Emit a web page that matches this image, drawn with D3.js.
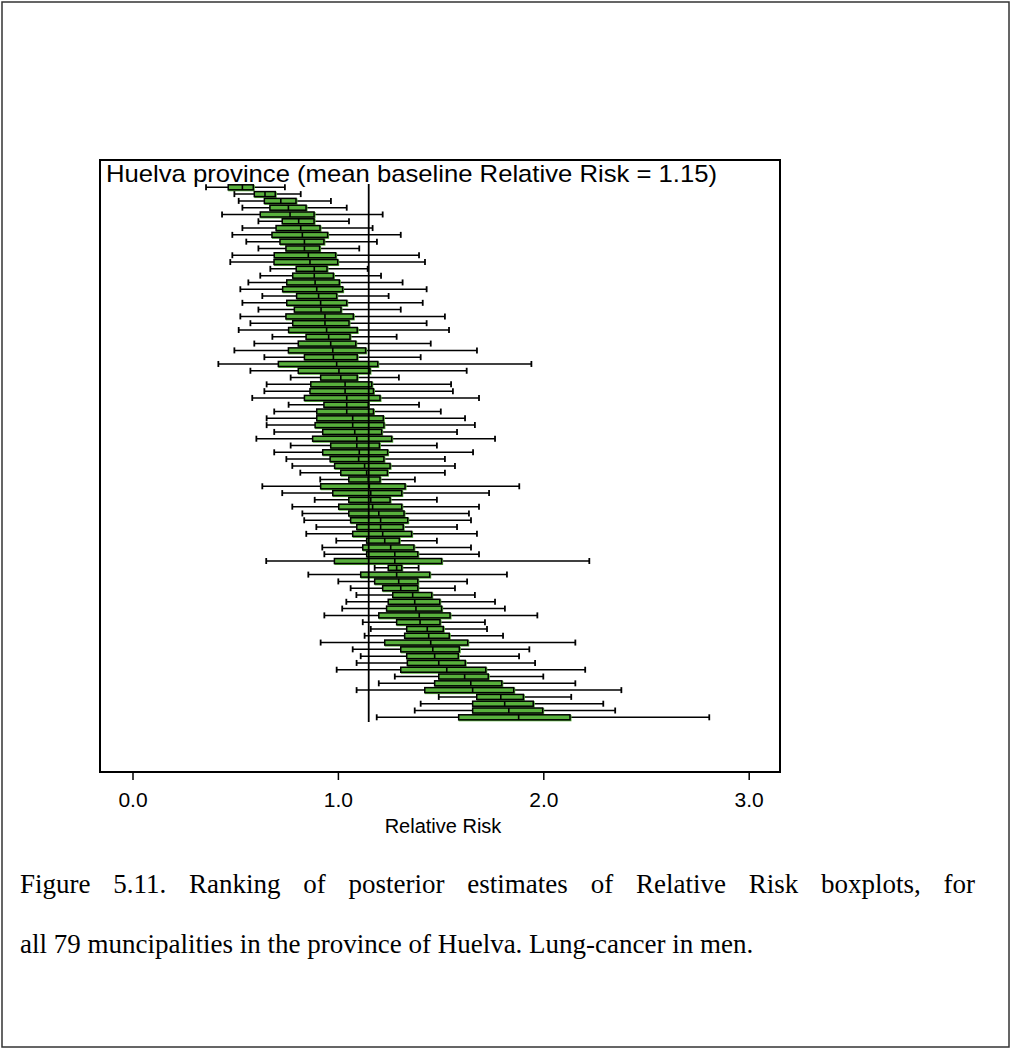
<!DOCTYPE html>
<html>
<head>
<meta charset="utf-8">
<script src="https://cdnjs.cloudflare.com/ajax/libs/d3/7.8.5/d3.min.js"></script>
<style>
  body { margin: 0; background: #fff; }
  svg { display: block; }
</style>
</head>
<body>
<svg id="chart" width="1011" height="1050"></svg>
<script>
// rank of municipality (1 = lowest median relative risk)
var ranks = d3.range(1, 80);

// boxplot summaries
var whiskLo = [0.358,0.496,0.517,0.535,0.436,0.613,0.535,0.486,0.554,0.613,
               0.486,0.476,0.671,0.622,0.564,0.525,0.632,0.535,0.613,0.525,
               0.574,0.517,0.681,0.593,0.496,0.642,0.418,0.574,0.770,0.653,
               0.642,0.583,0.760,0.690,0.653,0.653,0.690,0.603,0.770,0.690,
               0.749,0.778,0.817,0.914,0.632,0.729,0.887,0.778,0.827,0.836,
               0.895,0.846,0.992,0.924,0.934,0.651,1.179,0.856,1.002,1.062,
               1.090,1.041,1.021,0.934,1.121,1.160,1.130,0.916,1.072,1.111,
               1.091,0.994,1.277,1.199,1.091,1.491,1.403,1.374,1.189];
var q1 =      [0.466,0.593,0.642,0.669,0.622,0.729,0.699,0.679,0.718,0.747,
               0.690,0.689,0.797,0.780,0.751,0.731,0.799,0.751,0.788,0.747,
               0.780,0.760,0.845,0.807,0.759,0.837,0.710,0.807,0.916,0.868,
               0.864,0.837,0.932,0.897,0.897,0.889,0.926,0.877,0.965,0.926,
               0.962,0.984,1.014,1.053,0.916,0.975,1.053,1.004,1.053,1.062,
               1.092,1.072,1.140,1.121,1.140,0.983,1.245,1.111,1.179,1.218,
               1.267,1.245,1.237,1.199,1.286,1.335,1.325,1.228,1.306,1.335,
               1.338,1.306,1.491,1.471,1.423,1.676,1.656,1.656,1.588];
var median =  [0.535,0.645,0.722,0.759,0.767,0.809,0.819,0.827,0.837,0.837,
               0.856,0.864,0.885,0.885,0.889,0.897,0.906,0.916,0.918,0.937,
               0.937,0.945,0.955,0.965,0.975,0.978,0.994,1.005,1.014,1.035,
               1.035,1.043,1.043,1.043,1.072,1.072,1.082,1.092,1.092,1.104,
               1.101,1.130,1.140,1.148,1.153,1.160,1.160,1.169,1.199,1.208,
               1.208,1.218,1.228,1.257,1.277,1.277,1.286,1.286,1.296,1.306,
               1.364,1.374,1.380,1.396,1.400,1.435,1.442,1.452,1.462,1.471,
               1.491,1.530,1.617,1.647,1.656,1.793,1.812,1.832,1.880];
var q3 =      [0.588,0.695,0.796,0.845,0.884,0.884,0.913,0.950,0.932,0.911,
               0.989,0.999,0.947,0.978,1.007,1.023,0.994,1.043,1.015,1.075,
               1.054,1.094,1.059,1.087,1.135,1.094,1.194,1.156,1.094,1.165,
               1.173,1.205,1.148,1.173,1.221,1.224,1.213,1.262,1.202,1.242,
               1.224,1.254,1.241,1.205,1.327,1.311,1.254,1.311,1.322,1.340,
               1.318,1.359,1.299,1.370,1.389,1.505,1.311,1.447,1.389,1.389,
               1.457,1.496,1.505,1.546,1.497,1.513,1.542,1.632,1.591,1.586,
               1.620,1.720,1.732,1.798,1.856,1.903,1.951,1.997,2.130];
var whiskHi = [0.742,0.819,0.966,1.043,1.218,1.054,1.169,1.306,1.190,1.104,
               1.395,1.424,1.145,1.210,1.315,1.432,1.247,1.413,1.306,1.521,
               1.432,1.541,1.286,1.452,1.677,1.403,1.942,1.627,1.297,1.551,
               1.560,1.687,1.395,1.501,1.619,1.667,1.580,1.765,1.482,1.658,
               1.521,1.570,1.521,1.375,1.883,1.736,1.482,1.687,1.638,1.648,
               1.580,1.677,1.482,1.648,1.687,2.224,1.393,1.823,1.629,1.570,
               1.667,1.765,1.813,1.971,1.716,1.726,1.804,2.156,1.932,1.882,
               1.960,2.204,2.000,2.156,2.380,2.136,2.292,2.350,2.808];

var baseline = 1.15;
var xTicks = [0, 1, 2, 3];

var svg = d3.select("#chart");
var green = "#58b03c";
var sans = "Liberation Sans, Arial, sans-serif";

// outer page frame
svg.append("rect").attr("x", 2).attr("y", 2).attr("width", 1007).attr("height", 1045)
   .attr("fill", "none").attr("stroke", "#333").attr("stroke-width", 1.5);

// plot frame
var frame = {left: 100, top: 160, right: 780, bottom: 772};
svg.append("rect").attr("x", frame.left).attr("y", frame.top)
   .attr("width", frame.right - frame.left).attr("height", frame.bottom - frame.top)
   .attr("fill", "none").attr("stroke", "#000").attr("stroke-width", 2);

var x = d3.scaleLinear().domain([0, 3]).range([132.5, 748.7]);
var y = d3.scalePoint().domain(ranks).range([187.3, 717.3]);

svg.append("text").attr("x", 106).attr("y", 182)
   .attr("font-family", sans).attr("font-size", 24).attr("textLength", 611)
   .attr("lengthAdjust", "spacingAndGlyphs")
   .text("Huelva province (mean baseline Relative Risk = 1.15)");

// x axis ticks and labels
var axis = d3.axisBottom(x).tickValues(xTicks).tickFormat(d3.format(".1f"))
             .tickSizeInner(8).tickSizeOuter(0).tickPadding(12);
var gAxis = svg.append("g").attr("transform", "translate(0," + frame.bottom + ")").call(axis);
gAxis.select(".domain").remove();
gAxis.selectAll("line").attr("stroke", "#000").attr("stroke-width", 1.5);
gAxis.selectAll("text").attr("font-family", sans).attr("font-size", 21).attr("fill", "#000");

svg.append("text").attr("x", 443).attr("y", 833).attr("text-anchor", "middle")
   .attr("font-family", sans).attr("font-size", 20)
   .text("Relative Risk");

// boxplots
var rows = ranks.map(function(r, i) {
    return {r: r, lo: whiskLo[i], q1: q1[i], med: median[i], q3: q3[i], hi: whiskHi[i]};
});
var g = svg.append("g");
var bh = 5;
rows.forEach(function(d) {
    var cy = y(d.r);
    g.append("line").attr("x1", x(d.lo)).attr("x2", x(d.hi)).attr("y1", cy).attr("y2", cy)
     .attr("stroke", "#000").attr("stroke-width", 1.5);
    [d.lo, d.hi].forEach(function(v) {
        g.append("line").attr("x1", x(v)).attr("x2", x(v)).attr("y1", cy - 3).attr("y2", cy + 3)
         .attr("stroke", "#000").attr("stroke-width", 1.8);
    });
    g.append("rect").attr("x", x(d.q1)).attr("y", cy - bh / 2)
     .attr("width", x(d.q3) - x(d.q1) + 1.5).attr("height", bh + 1.5).attr("fill", green);
    g.append("rect").attr("x", x(d.q1)).attr("y", cy - bh / 2)
     .attr("width", x(d.q3) - x(d.q1)).attr("height", bh)
     .attr("fill", green).attr("stroke", "#000").attr("stroke-width", 1.5);
    g.append("line").attr("x1", x(d.med)).attr("x2", x(d.med)).attr("y1", cy - bh / 2).attr("y2", cy + bh / 2)
     .attr("stroke", "#000").attr("stroke-width", 1.6);
});

// baseline reference line
svg.append("line").attr("x1", x(baseline)).attr("x2", x(baseline)).attr("y1", 184).attr("y2", 722)
   .attr("stroke", "#000").attr("stroke-width", 1.8);

// caption, first line justified to the right margin
var capFont = "Liberation Serif, Times New Roman, serif";
var line1 = svg.append("text").attr("x", 20).attr("y", 893)
   .attr("font-family", capFont).attr("font-size", 27).attr("fill", "#000")
   .text("Figure 5.11. Ranking of posterior estimates of Relative Risk boxplots, for");
var w1 = line1.node().getComputedTextLength();
var gaps = line1.text().split(" ").length - 1;
line1.attr("word-spacing", Math.max(0, (955 - w1) / gaps));
svg.append("text").attr("x", 20).attr("y", 953)
   .attr("font-family", capFont).attr("font-size", 27).attr("fill", "#000")
   .text("all 79 muncipalities in the province of Huelva. Lung-cancer in men.");
</script>
</body>
</html>
